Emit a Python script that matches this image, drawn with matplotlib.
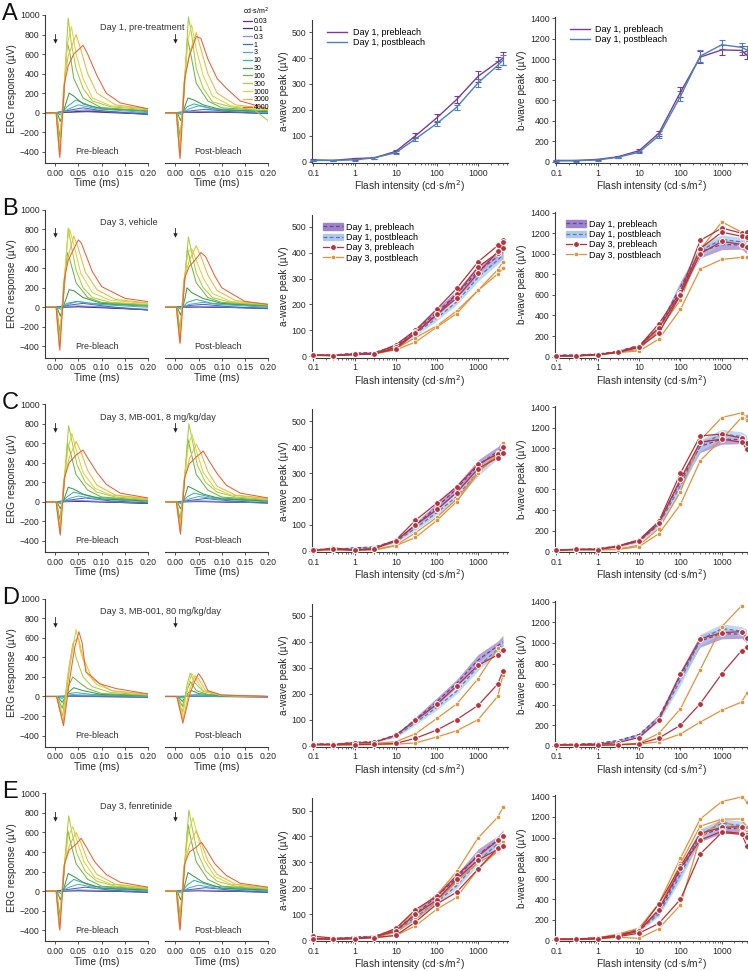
import numpy as np
import matplotlib
matplotlib.use('Agg')
import matplotlib.pyplot as plt
from matplotlib.patches import Patch
from matplotlib.lines import Line2D
from matplotlib.ticker import LogLocator, FixedLocator, NullFormatter

plt.rcParams['font.family'] = ['Liberation Sans', 'DejaVu Sans']

# ---------------- data ----------------
INTENSITY = [0.1, 0.3, 1, 3, 10, 30, 100, 300, 1000, 3000, 4000]
LEGEND_LABELS = ['0.03', '0.1', '0.3', '1', '3', '10', '30', '100', '300', '1000', '3000', '4000']
TRACE_COLORS = ['#6a2c91', '#37378c', '#9090d8', '#3f6fb5', '#5aa6d8', '#3db3a2',
                '#3c9b4c', '#6bb847', '#a9cd3c', '#d6d640', '#eab83c', '#e4643a']
ROW_LETTERS = ['A', 'B', 'C', 'D', 'E']
ROW_TITLES = ['Day 1, pre-treatment', 'Day 3, vehicle', 'Day 3, MB-001, 8 mg/kg/day',
              'Day 3, MB-001, 80 mg/kg/day', 'Day 3, fenretinide']

# Day 1 means and errors (a-wave and b-wave)
D1_A_PRE = [7, 5, 12, 15, 40, 100, 170, 240, 330, 385, 400]
D1_A_PRE_ERR = [3, 3, 4, 3, 5, 10, 15, 15, 22, 18, 25]
D1_A_POST = [5, 5, 7, 15, 35, 88, 148, 210, 305, 372, 392]
D1_A_POST_ERR = [3, 3, 3, 3, 5, 8, 10, 10, 15, 15, 20]
D1_B_PRE = [15, 15, 25, 50, 110, 280, 680, 1020, 1090, 1085, 1040]
D1_B_PRE_ERR = [8, 8, 8, 8, 12, 25, 50, 60, 50, 40, 40]
D1_B_POST = [10, 12, 20, 45, 95, 255, 640, 1030, 1140, 1115, 1090]
D1_B_POST_ERR = [8, 8, 8, 8, 12, 20, 50, 55, 45, 45, 40]

nan = float('nan')
# Day 3 individual animals, rows B..E
B_A_PRE = [[5, 3, 8, 10, 45, 100, 183, 262, 365, 428, 450],
           [4, 3, 8, 10, 35, 92, 160, 240, 345, 400, 418],
           [4, 3, 7, 10, 28, 90, 162, 225, 322, 405, 440]]
B_A_POST = [[4, 3, 7, 9, 30, 72, 118, 175, 255, 335, 365],
            [3, 3, 6, 9, 25, 55, 113, 165, 255, 318, 340]]
B_B_PRE = [[8, 8, 20, 45, 100, 320, 630, 1130, 1250, 1200, 1210],
           [8, 8, 18, 42, 95, 280, 610, 1050, 1210, 1170, 1165],
           [7, 7, 18, 40, 90, 230, 600, 1000, 1120, 1090, 1065]]
B_B_POST = [[7, 7, 17, 40, 70, 260, 550, 1040, 1310, 1210, 1130],
            [6, 6, 15, 38, 55, 170, 460, 850, 945, 965, 965]]

C_A_PRE = [[0, 12, 3, 10, 42, 118, 185, 248, 335, 375, 400],
           [2, 8, 2, 8, 38, 100, 160, 225, 318, 360, 378]]
C_A_POST = [[0, 5, 3, 5, 22, 70, 130, 200, 305, 370, 415],
            [0, 4, 2, 3, 20, 52, 118, 190, 300, 382, 400]]
C_B_PRE = [[10, 20, 18, 50, 110, 290, 760, 1120, 1140, 1100, 1050],
           [8, 18, 15, 45, 100, 270, 700, 1060, 1090, 1060, 990]]
C_B_POST = [[8, 15, 15, 20, 60, 220, 580, 1080, 1300, 1345, 1310],
            [6, 12, 12, 15, 45, 170, 455, 880, 1090, 1300, 1280]]

D_A_PRE = [[5, 4, 10, 12, 40, 97, 160, 230, 310, 350, 367],
           [3, 3, 3, 5, 8, 28, 60, 100, 155, 238, 288]]
D_A_POST = [[4, 3, 6, 8, 15, 45, 105, 160, 258, 375, 370],
            [2, 2, 3, 3, 5, 10, 33, 57, 100, 190, 272]]
D_B_PRE = [[8, 10, 15, 30, 80, 250, 700, 1040, 1100, 1110, 1050],
           [6, 8, 5, 10, 20, 75, 200, 410, 700, 925, 960]]
D_B_POST = [[6, 8, 8, 10, 25, 120, 360, 740, 1160, 1360, nan],
            [5, 6, 5, 8, 15, 40, 115, 230, 345, 425, 510]]

E_A_PRE = [[15, 8, 7, 12, 45, 118, 170, 250, 325, 385, 400],
           [5, 5, 7, 12, 35, 100, 155, 235, 310, 350, 362],
           [5, 3, 6, 10, 18, 70, 140, 185, 275, 355, 362]]
E_A_POST = [[8, 5, 7, 12, 45, 110, 175, 265, 395, 475, 512],
            [5, 3, 6, 10, 30, 80, 150, 225, 300, 340, 380],
            [3, 3, 5, 8, 18, 55, 120, 165, 275, 345, 362]]
E_B_PRE = [[12, 12, 25, 50, 100, 355, 720, 1040, 1100, 1105, 1020],
           [10, 10, 20, 40, 90, 300, 700, 975, 1060, 1040, 920],
           [10, 10, 15, 35, 70, 165, 400, 840, 1050, 1030, 1010]]
E_B_POST = [[12, 12, 25, 60, 120, 360, 800, 1180, 1350, 1395, 1350],
            [10, 10, 20, 50, 100, 300, 750, 1110, 1180, 1180, 1100],
            [8, 8, 15, 30, 20, 115, 345, 1000, 1170, 1070, 1050]]

DAY3 = {'B': (B_A_PRE, B_A_POST, B_B_PRE, B_B_POST),
        'C': (C_A_PRE, C_A_POST, C_B_PRE, C_B_POST),
        'D': (D_A_PRE, D_A_POST, D_B_PRE, D_B_POST),
        'E': (E_A_PRE, E_A_POST, E_B_PRE, E_B_POST)}

# ERG waveforms: (time ms, response uV) vertices, one list per flash intensity
A_PRE_WAVES = [
    [(-0.022, 0), (0, 0), (0.03, 5), (0.07, 10), (0.12, 0), (0.2, -15)],
    [(-0.022, 0), (0, 0), (0.03, 8), (0.07, 18), (0.12, 5), (0.2, -10)],
    [(-0.022, 0), (0, 0), (0.03, 15), (0.065, 30), (0.12, 10), (0.2, -5)],
    [(-0.022, 0), (0, 0), (0.03, 25), (0.06, 50), (0.1, 20), (0.2, -20)],
    [(-0.022, 0), (0.005, 0), (0.012, -5), (0.03, 40), (0.05, 80), (0.09, 40), (0.2, 0)],
    [(-0.022, 0), (0.004, 0), (0.012, -25), (0.025, 60), (0.045, 130), (0.08, 60), (0.2, 10)],
    [(-0.022, 0), (0.004, 0), (0.011, -90), (0.02, 50), (0.03, 200), (0.04, 170), (0.06, 90), (0.1, 40), (0.2, 20)],
    [(-0.022, 0), (0.003, 0), (0.01, -250), (0.018, 100), (0.026, 720), (0.032, 600), (0.04, 350), (0.06, 150), (0.1, 50), (0.2, 20)],
    [(-0.022, 0), (0.003, 0), (0.01, -350), (0.018, 150), (0.028, 970), (0.035, 700), (0.045, 450), (0.06, 250), (0.08, 120), (0.12, 60), (0.2, 30)],
    [(-0.022, 0), (0.002, 0), (0.009, -400), (0.018, 200), (0.026, 700), (0.035, 880), (0.045, 600), (0.06, 350), (0.08, 150), (0.12, 70), (0.2, 40)],
    [(-0.022, 0), (0.002, 0), (0.009, -440), (0.018, 250), (0.028, 580), (0.045, 800), (0.055, 650), (0.07, 400), (0.09, 200), (0.13, 80), (0.2, 40)],
    [(-0.022, 0), (0.002, 0), (0.01, -460), (0.02, 300), (0.028, 480), (0.04, 600), (0.06, 690), (0.07, 600), (0.09, 380), (0.11, 200), (0.14, 100), (0.2, 40)],
]
A_POST_WAVES = [
    [(-0.022, 0), (0, 0), (0.04, 3), (0.08, 5), (0.2, -5)],
    [(-0.022, 0), (0, 0), (0.04, 5), (0.08, 10), (0.2, -5)],
    [(-0.022, 0), (0, 0), (0.04, 10), (0.07, 15), (0.2, 0)],
    [(-0.022, 0), (0, 0), (0.035, 20), (0.065, 35), (0.12, 10), (0.2, -10)],
    [(-0.022, 0), (0.005, 0), (0.012, -5), (0.03, 40), (0.05, 70), (0.09, 30), (0.2, 0)],
    [(-0.022, 0), (0.004, 0), (0.012, -20), (0.025, 60), (0.04, 90), (0.08, 40), (0.2, 10)],
    [(-0.022, 0), (0.004, 0), (0.011, -80), (0.02, 60), (0.027, 150), (0.04, 130), (0.06, 80), (0.1, 30), (0.2, 10)],
    [(-0.022, 0), (0.003, 0), (0.01, -250), (0.018, 150), (0.026, 760), (0.033, 600), (0.045, 300), (0.07, 120), (0.1, 50), (0.2, 20)],
    [(-0.022, 0), (0.003, 0), (0.01, -380), (0.018, 200), (0.028, 980), (0.035, 800), (0.045, 450), (0.06, 250), (0.08, 110), (0.12, 60), (0.17, 30), (0.2, -80)],
    [(-0.022, 0), (0.002, 0), (0.009, -420), (0.018, 250), (0.027, 750), (0.035, 900), (0.045, 650), (0.06, 380), (0.08, 170), (0.12, 70), (0.2, 30)],
    [(-0.022, 0), (0.002, 0), (0.009, -450), (0.018, 300), (0.03, 600), (0.045, 820), (0.055, 650), (0.07, 400), (0.09, 200), (0.13, 80), (0.2, 40)],
    [(-0.022, 0), (0.002, 0), (0.01, -470), (0.02, 350), (0.03, 580), (0.045, 780), (0.055, 760), (0.07, 550), (0.09, 350), (0.11, 250), (0.14, 120), (0.2, 40)],
]
B_PRE_WAVES = [
    [(-0.022, 0), (0, 0), (0.05, 5), (0.1, -5), (0.2, -25)],
    [(-0.022, 0), (0, 0), (0.05, 8), (0.1, 0), (0.2, -25)],
    [(-0.022, 0), (0, 0), (0.05, 15), (0.1, 5), (0.2, -20)],
    [(-0.022, 0), (0, 0), (0.035, 25), (0.06, 40), (0.12, 5), (0.2, -30)],
    [(-0.022, 0), (0.005, 0), (0.012, -5), (0.03, 35), (0.05, 60), (0.09, 30), (0.2, 0)],
    [(-0.022, 0), (0.004, 0), (0.012, -20), (0.025, 40), (0.045, 60), (0.08, 40), (0.2, 10)],
    [(-0.022, 0), (0.004, 0), (0.011, -90), (0.02, 40), (0.03, 180), (0.04, 170), (0.06, 100), (0.1, 40), (0.2, 20)],
    [(-0.022, 0), (0.003, 0), (0.01, -250), (0.018, 100), (0.026, 560), (0.032, 480), (0.045, 250), (0.07, 100), (0.1, 50), (0.2, 20)],
    [(-0.022, 0), (0.003, 0), (0.01, -330), (0.018, 150), (0.028, 810), (0.035, 620), (0.045, 380), (0.06, 200), (0.08, 100), (0.12, 50), (0.2, 30)],
    [(-0.022, 0), (0.002, 0), (0.009, -390), (0.018, 200), (0.027, 700), (0.031, 800), (0.04, 640), (0.055, 350), (0.08, 150), (0.12, 70), (0.2, 40)],
    [(-0.022, 0), (0.002, 0), (0.009, -420), (0.018, 250), (0.028, 520), (0.04, 730), (0.05, 600), (0.065, 360), (0.09, 180), (0.13, 80), (0.2, 45)],
    [(-0.022, 0), (0.002, 0), (0.01, -440), (0.02, 300), (0.028, 480), (0.036, 560), (0.05, 690), (0.056, 660), (0.08, 365), (0.1, 212), (0.15, 92), (0.2, 58)],
]
B_POST_WAVES = [
    [(-0.022, 0), (0, 0), (0.05, 3), (0.1, 0), (0.2, -10)],
    [(-0.022, 0), (0, 0), (0.05, 6), (0.1, 0), (0.2, -10)],
    [(-0.022, 0), (0, 0), (0.05, 10), (0.1, 5), (0.2, -10)],
    [(-0.022, 0), (0, 0), (0.035, 20), (0.06, 30), (0.12, 5), (0.2, -15)],
    [(-0.022, 0), (0.005, 0), (0.012, -5), (0.03, 30), (0.06, 50), (0.09, 30), (0.2, 0)],
    [(-0.022, 0), (0.004, 0), (0.012, -20), (0.025, 50), (0.045, 80), (0.08, 40), (0.2, 10)],
    [(-0.022, 0), (0.004, 0), (0.011, -80), (0.02, 80), (0.025, 200), (0.035, 150), (0.06, 90), (0.1, 40), (0.2, 15)],
    [(-0.022, 0), (0.003, 0), (0.01, -220), (0.018, 150), (0.026, 600), (0.033, 450), (0.045, 250), (0.07, 100), (0.1, 50), (0.2, 20)],
    [(-0.022, 0), (0.003, 0), (0.01, -300), (0.018, 200), (0.028, 720), (0.035, 560), (0.045, 350), (0.06, 200), (0.08, 100), (0.12, 50), (0.2, 25)],
    [(-0.022, 0), (0.002, 0), (0.009, -340), (0.018, 250), (0.027, 560), (0.035, 600), (0.045, 480), (0.06, 300), (0.08, 140), (0.12, 60), (0.2, 30)],
    [(-0.022, 0), (0.002, 0), (0.009, -360), (0.018, 280), (0.03, 480), (0.045, 630), (0.055, 520), (0.07, 330), (0.09, 170), (0.13, 70), (0.2, 30)],
    [(-0.022, 0), (0.002, 0), (0.01, -370), (0.02, 300), (0.03, 420), (0.04, 470), (0.055, 560), (0.065, 520), (0.085, 320), (0.1, 200), (0.15, 60), (0.2, 30)],
]
C_PRE_WAVES = [
    [(-0.022, 0), (0, 0), (0.05, 5), (0.1, 0), (0.2, -15)],
    [(-0.022, 0), (0, 0), (0.05, 8), (0.1, 0), (0.2, -15)],
    [(-0.022, 0), (0, 0), (0.05, 15), (0.1, 5), (0.2, -10)],
    [(-0.022, 0), (0, 0), (0.04, 25), (0.065, 40), (0.12, 10), (0.2, -10)],
    [(-0.022, 0), (0.005, 0), (0.012, -5), (0.03, 35), (0.05, 60), (0.09, 30), (0.2, 0)],
    [(-0.022, 0), (0.004, 0), (0.012, -20), (0.025, 50), (0.04, 100), (0.08, 50), (0.2, 10)],
    [(-0.022, 0), (0.004, 0), (0.011, -70), (0.02, 40), (0.028, 150), (0.04, 130), (0.06, 80), (0.1, 30), (0.2, 10)],
    [(-0.022, 0), (0.003, 0), (0.01, -180), (0.018, 100), (0.027, 600), (0.034, 480), (0.045, 280), (0.07, 120), (0.1, 50), (0.2, 15)],
    [(-0.022, 0), (0.003, 0), (0.01, -260), (0.018, 150), (0.029, 780), (0.036, 620), (0.047, 380), (0.065, 200), (0.09, 100), (0.13, 50), (0.2, 25)],
    [(-0.022, 0), (0.002, 0), (0.01, -300), (0.018, 180), (0.028, 560), (0.036, 700), (0.046, 520), (0.06, 300), (0.085, 140), (0.12, 70), (0.2, 30)],
    [(-0.022, 0), (0.002, 0), (0.01, -320), (0.018, 200), (0.03, 450), (0.045, 620), (0.055, 520), (0.07, 320), (0.09, 170), (0.13, 70), (0.2, 35)],
    [(-0.022, 0), (0.002, 0), (0.011, -340), (0.02, 250), (0.03, 400), (0.045, 480), (0.06, 530), (0.07, 450), (0.09, 300), (0.11, 180), (0.14, 90), (0.2, 40)],
]
C_POST_WAVES = [
    [(-0.022, 0), (0, 0), (0.05, 3), (0.1, 0), (0.2, -10)],
    [(-0.022, 0), (0, 0), (0.05, 6), (0.1, 0), (0.2, -10)],
    [(-0.022, 0), (0, 0), (0.05, 10), (0.1, 5), (0.2, -10)],
    [(-0.022, 0), (0, 0), (0.04, 20), (0.065, 35), (0.12, 10), (0.2, -10)],
    [(-0.022, 0), (0.005, 0), (0.012, -5), (0.03, 30), (0.05, 55), (0.09, 30), (0.2, 0)],
    [(-0.022, 0), (0.004, 0), (0.012, -20), (0.025, 50), (0.04, 90), (0.08, 45), (0.2, 10)],
    [(-0.022, 0), (0.004, 0), (0.011, -70), (0.02, 50), (0.027, 160), (0.04, 130), (0.06, 80), (0.1, 30), (0.2, 10)],
    [(-0.022, 0), (0.003, 0), (0.01, -180), (0.018, 120), (0.027, 640), (0.034, 500), (0.045, 280), (0.07, 120), (0.1, 50), (0.2, 15)],
    [(-0.022, 0), (0.003, 0), (0.01, -260), (0.018, 160), (0.029, 800), (0.036, 640), (0.047, 380), (0.065, 200), (0.09, 100), (0.13, 50), (0.2, 25)],
    [(-0.022, 0), (0.002, 0), (0.01, -290), (0.018, 190), (0.028, 580), (0.036, 690), (0.046, 510), (0.06, 300), (0.085, 140), (0.12, 70), (0.2, 30)],
    [(-0.022, 0), (0.002, 0), (0.01, -310), (0.018, 210), (0.03, 440), (0.045, 590), (0.055, 500), (0.07, 310), (0.09, 160), (0.13, 70), (0.2, 35)],
    [(-0.022, 0), (0.002, 0), (0.011, -330), (0.02, 250), (0.03, 390), (0.045, 460), (0.06, 520), (0.07, 440), (0.09, 290), (0.11, 170), (0.14, 90), (0.2, 40)],
]
D_PRE_WAVES = [
    [(-0.022, 0), (0, 0), (0.05, 0), (0.2, -5)],
    [(-0.022, 0), (0, 0), (0.05, 2), (0.2, -5)],
    [(-0.022, 0), (0, 0), (0.05, 4), (0.2, -3)],
    [(-0.022, 0), (0, 0), (0.04, 8), (0.08, 5), (0.2, -5)],
    [(-0.022, 0), (0.005, 0), (0.015, -5), (0.035, 20), (0.06, 15), (0.2, 0)],
    [(-0.022, 0), (0.005, 0), (0.015, -20), (0.03, 30), (0.045, 40), (0.08, 20), (0.2, 5)],
    [(-0.022, 0), (0.005, 0), (0.015, -60), (0.028, 40), (0.04, 90), (0.06, 60), (0.1, 20), (0.2, 10)],
    [(-0.022, 0), (0.004, 0), (0.015, -120), (0.028, 100), (0.038, 200), (0.05, 150), (0.07, 80), (0.1, 30), (0.2, 10)],
    [(-0.022, 0), (0.004, 0), (0.016, -200), (0.028, 250), (0.038, 543), (0.045, 400), (0.06, 200), (0.08, 100), (0.12, 40), (0.2, 15)],
    [(-0.022, 0), (0.003, 0), (0.017, -260), (0.03, 300), (0.045, 687), (0.055, 450), (0.07, 230), (0.09, 120), (0.13, 50), (0.2, 20)],
    [(-0.022, 0), (0.003, 0), (0.017, -280), (0.03, 250), (0.04, 560), (0.05, 600), (0.06, 400), (0.08, 180), (0.12, 60), (0.2, 25)],
    [(-0.022, 0), (0.003, 0), (0.018, -300), (0.032, 200), (0.042, 500), (0.051, 663), (0.058, 550), (0.066, 250), (0.08, 200), (0.096, 130), (0.132, 80), (0.2, 27)],
]
D_POST_WAVES = [
    [(-0.022, 0), (0, 0), (0.05, 0), (0.2, -3)],
    [(-0.022, 0), (0, 0), (0.05, 1), (0.2, -3)],
    [(-0.022, 0), (0, 0), (0.05, 2), (0.2, -2)],
    [(-0.022, 0), (0, 0), (0.05, 4), (0.2, -3)],
    [(-0.022, 0), (0.005, 0), (0.015, -5), (0.035, 8), (0.06, 5), (0.2, 0)],
    [(-0.022, 0), (0.005, 0), (0.015, -15), (0.03, 15), (0.045, 20), (0.08, 5), (0.2, 0)],
    [(-0.022, 0), (0.005, 0), (0.015, -50), (0.028, 40), (0.035, 60), (0.05, 30), (0.1, 5), (0.2, 0)],
    [(-0.022, 0), (0.004, 0), (0.015, -100), (0.026, 80), (0.033, 150), (0.045, 60), (0.07, 20), (0.2, 0)],
    [(-0.022, 0), (0.004, 0), (0.015, -160), (0.025, 120), (0.032, 240), (0.04, 150), (0.06, 50), (0.1, 10), (0.2, 0)],
    [(-0.022, 0), (0.003, 0), (0.015, -200), (0.027, 100), (0.035, 235), (0.045, 170), (0.06, 60), (0.1, 10), (0.2, 0)],
    [(-0.022, 0), (0.003, 0), (0.016, -240), (0.03, 60), (0.042, 210), (0.05, 180), (0.065, 60), (0.1, 10), (0.2, 0)],
    [(-0.022, 0), (0.003, 0), (0.016, -272), (0.032, 40), (0.042, 160), (0.05, 234), (0.058, 180), (0.07, 60), (0.1, 15), (0.2, 0)],
]
E_PRE_WAVES = [
    [(-0.022, 0), (0, 0), (0.05, 3), (0.1, 0), (0.2, -10)],
    [(-0.022, 0), (0, 0), (0.05, 6), (0.1, 0), (0.2, -10)],
    [(-0.022, 0), (0, 0), (0.05, 12), (0.1, 5), (0.2, -5)],
    [(-0.022, 0), (0, 0), (0.04, 25), (0.065, 40), (0.12, 10), (0.2, -10)],
    [(-0.022, 0), (0.005, 0), (0.012, -5), (0.03, 40), (0.05, 70), (0.09, 30), (0.2, 0)],
    [(-0.022, 0), (0.004, 0), (0.012, -25), (0.025, 60), (0.04, 120), (0.08, 50), (0.2, 10)],
    [(-0.022, 0), (0.004, 0), (0.011, -90), (0.02, 50), (0.028, 180), (0.04, 150), (0.06, 90), (0.1, 30), (0.2, 10)],
    [(-0.022, 0), (0.003, 0), (0.01, -250), (0.018, 120), (0.027, 620), (0.034, 480), (0.045, 280), (0.07, 120), (0.1, 50), (0.2, 20)],
    [(-0.022, 0), (0.003, 0), (0.01, -330), (0.018, 170), (0.029, 770), (0.036, 600), (0.047, 380), (0.065, 200), (0.09, 100), (0.13, 50), (0.2, 25)],
    [(-0.022, 0), (0.002, 0), (0.009, -370), (0.018, 200), (0.028, 560), (0.038, 660), (0.048, 500), (0.062, 300), (0.085, 140), (0.12, 70), (0.2, 30)],
    [(-0.022, 0), (0.002, 0), (0.009, -390), (0.018, 240), (0.03, 460), (0.045, 600), (0.055, 500), (0.07, 310), (0.09, 170), (0.13, 70), (0.2, 35)],
    [(-0.022, 0), (0.002, 0), (0.01, -400), (0.02, 280), (0.03, 420), (0.045, 480), (0.056, 540), (0.066, 460), (0.085, 300), (0.11, 170), (0.14, 90), (0.2, 40)],
]
E_POST_WAVES = [
    [(-0.022, 0), (0, 0), (0.05, 3), (0.1, 0), (0.2, -10)],
    [(-0.022, 0), (0, 0), (0.05, 6), (0.1, 0), (0.2, -10)],
    [(-0.022, 0), (0, 0), (0.05, 10), (0.1, 5), (0.2, -5)],
    [(-0.022, 0), (0, 0), (0.04, 20), (0.065, 35), (0.12, 10), (0.2, -10)],
    [(-0.022, 0), (0.005, 0), (0.012, -5), (0.03, 35), (0.05, 60), (0.09, 30), (0.2, 0)],
    [(-0.022, 0), (0.004, 0), (0.012, -20), (0.025, 60), (0.04, 110), (0.08, 50), (0.2, 10)],
    [(-0.022, 0), (0.004, 0), (0.011, -90), (0.02, 60), (0.027, 190), (0.04, 150), (0.06, 90), (0.1, 30), (0.2, 10)],
    [(-0.022, 0), (0.003, 0), (0.01, -250), (0.018, 130), (0.027, 680), (0.034, 520), (0.045, 300), (0.07, 120), (0.1, 50), (0.2, 20)],
    [(-0.022, 0), (0.003, 0), (0.01, -330), (0.018, 180), (0.029, 830), (0.036, 650), (0.047, 400), (0.065, 210), (0.09, 100), (0.13, 50), (0.2, 25)],
    [(-0.022, 0), (0.002, 0), (0.009, -370), (0.018, 220), (0.028, 600), (0.038, 750), (0.048, 560), (0.062, 320), (0.085, 150), (0.12, 70), (0.2, 30)],
    [(-0.022, 0), (0.002, 0), (0.009, -390), (0.018, 250), (0.03, 470), (0.045, 620), (0.055, 500), (0.07, 310), (0.09, 170), (0.13, 70), (0.2, 35)],
    [(-0.022, 0), (0.002, 0), (0.01, -400), (0.02, 280), (0.03, 400), (0.045, 450), (0.056, 500), (0.066, 430), (0.085, 280), (0.11, 160), (0.14, 80), (0.2, 40)],
]
WAVES = [(A_PRE_WAVES, A_POST_WAVES), (B_PRE_WAVES, B_POST_WAVES), (C_PRE_WAVES, C_POST_WAVES),
         (D_PRE_WAVES, D_POST_WAVES), (E_PRE_WAVES, E_POST_WAVES)]

# ---------------- styling ----------------
C_D1PRE = '#7a3d96'
C_D1POST = '#4a80c0'
C_D1PRE_BAND = '#9c84cc'
C_D1POST_BAND = '#b0c8ea'
C_D3PRE = '#b8323c'
C_D3POST = '#e2923c'
SPINE = '#3a3a3a'
TXT = '#2a2a2a'
TICK_FS = 6.3
LAB_FS = 7.3

W, H = 748, 971
fig = plt.figure(figsize=(W / 100, H / 100), dpi=100)


def ax_px(left, top, right, bottom):
    return fig.add_axes([left / W, 1 - bottom / H, (right - left) / W, (bottom - top) / H])


def style_ax(ax, left=True):
    for s in ['top', 'right']:
        ax.spines[s].set_visible(False)
    ax.spines['left'].set_visible(left)
    for s in ['left', 'bottom']:
        ax.spines[s].set_color(SPINE)
        ax.spines[s].set_linewidth(0.8)
    ax.tick_params(which='major', length=2.5, width=0.6, color=SPINE, labelsize=TICK_FS,
                   labelcolor=TXT, pad=1.5)
    ax.tick_params(which='minor', length=1.5, width=0.5, color=SPINE)
    ax.patch.set_alpha(0)


def style_log(ax, xmax):
    ax.set_xscale('log')
    ax.set_xlim(0.092, xmax)
    ax.xaxis.set_major_locator(FixedLocator([0.1, 1, 10, 100, 1000]))
    ax.set_xticklabels(['0.1', '1', '10', '100', '1000'])
    ax.xaxis.set_minor_locator(LogLocator(base=10, subs=np.arange(2, 10), numticks=20))
    ax.xaxis.set_minor_formatter(NullFormatter())
    ax.set_xlabel('Flash intensity (cd·s/m$^2$)', fontsize=LAB_FS, color=TXT, labelpad=0.5)


ROW_DY = 194.6
for r in range(5):
    dy = ROW_DY * r
    pre_w, post_w = WAVES[r]
    # waveform axes
    for k, (waves, l, rr) in enumerate([(pre_w, 45, 148), (post_w, 164.5, 268)]):
        ax = ax_px(l, 15 + dy, rr, 163 + dy)
        style_ax(ax, left=(k == 0))
        for wv, col in zip(waves, TRACE_COLORS):
            t = [p[0] for p in wv]
            v = [p[1] for p in wv]
            ax.plot(t, v, color=col, lw=0.75, solid_joinstyle='round')
        ax.set_xlim(-0.022 if k == 0 else -0.0237, 0.2)
        ax.set_ylim(-515, 1000)
        ax.set_xticks([0, 0.05, 0.1, 0.15, 0.2])
        ax.set_xticklabels(['0.00', '0.05', '0.10', '0.15', '0.20'])
        ax.set_xlabel('Time (ms)', fontsize=LAB_FS, color=TXT, labelpad=0.5)
        if k == 0:
            ax.set_yticks([-400, -200, 0, 200, 400, 600, 800, 1000])
            ax.set_ylabel('ERG response (µV)', fontsize=LAB_FS, color=TXT, labelpad=2)
        else:
            ax.set_yticks([])
        # flash marker
        ax.plot([0, 0], [740, 810], color='#222', lw=0.6)
        ax.plot([0], [735], marker='v', ms=3.2, color='#222', mew=0)
        ax.text(0.09 if k == 0 else 0.0925, -400, 'Pre-bleach' if k == 0 else 'Post-bleach',
                ha='center', va='center', fontsize=6.5, color='#333')
        if r == 0 and k == 1:
            handles = [Line2D([], [], color=c, lw=0.9) for c in TRACE_COLORS]
            leg = ax.legend(handles, LEGEND_LABELS, loc='upper left', bbox_to_anchor=(0.73, 1.08),
                            frameon=False, fontsize=5.0, handlelength=1.3, handletextpad=0.3,
                            labelspacing=0.12, borderaxespad=0, title='cd·s/m$^2$',
                            title_fontsize=5.0)
            leg._legend_box.align = 'left'
    fig.text(100 / W, 1 - (28 + dy) / H, ROW_TITLES[r], ha='left', va='center', fontsize=6.6,
             color='#333')
    fig.text(2 / W, 1 - (3 + dy) / H, ROW_LETTERS[r], fontsize=17, ha='left', va='top', color='#111')

    # a-wave and b-wave axes
    for kind in ['a', 'b']:
        if kind == 'a':
            ax = ax_px(312, 20 + dy, 508, 163 + dy)
            ylim = (-5, 547)
            yt = [0, 100, 200, 300, 400, 500]
            xmax = 5300
            d1pre, d1pre_e, d1post, d1post_e = D1_A_PRE, D1_A_PRE_ERR, D1_A_POST, D1_A_POST_ERR
            ylabel = 'a-wave peak (µV)'
        else:
            ax = ax_px(555, 17 + dy, 748, 163 + dy)
            ylim = (-10, 1410)
            yt = [0, 200, 400, 600, 800, 1000, 1200, 1400]
            xmax = 4300
            d1pre, d1pre_e, d1post, d1post_e = D1_B_PRE, D1_B_PRE_ERR, D1_B_POST, D1_B_POST_ERR
            ylabel = 'b-wave peak (µV)'
        style_ax(ax)
        style_log(ax, xmax)
        ax.set_ylim(*ylim)
        ax.set_yticks(yt)
        ax.set_ylabel(ylabel, fontsize=LAB_FS, color=TXT, labelpad=2)
        x = np.array(INTENSITY)
        if r == 0:
            ax.errorbar(x, d1pre, yerr=d1pre_e, color=C_D1PRE, lw=1.0, capsize=2, elinewidth=0.8,
                        capthick=0.8, label='Day 1, prebleach', clip_on=False, zorder=3)
            ax.errorbar(x, d1post, yerr=d1post_e, color=C_D1POST, lw=1.0, capsize=2, elinewidth=0.8,
                        capthick=0.8, label='Day 1, postbleach', clip_on=False, zorder=3)
            h = [Line2D([], [], color=C_D1PRE, lw=1.0), Line2D([], [], color=C_D1POST, lw=1.0)]
            ax.legend(h, ['Day 1, prebleach', 'Day 1, postbleach'], loc='upper left',
                      bbox_to_anchor=(0.06, 0.97), frameon=False, fontsize=6.5,
                      handlelength=2.2, handletextpad=0.6, labelspacing=0.15, borderaxespad=0)
        else:
            letter = ROW_LETTERS[r]
            a_pre, a_post, b_pre, b_post = DAY3[letter]
            pre3, post3 = (a_pre, a_post) if kind == 'a' else (b_pre, b_post)
            lo = np.array(d1pre) - np.array(d1pre_e)
            hi = np.array(d1pre) + np.array(d1pre_e)
            ax.fill_between(x, lo, hi, color=C_D1PRE_BAND, alpha=0.75, lw=0, zorder=1)
            lo = np.array(d1post) - np.array(d1post_e)
            hi = np.array(d1post) + np.array(d1post_e)
            ax.fill_between(x, lo, hi, color=C_D1POST_BAND, alpha=0.75, lw=0, zorder=1)
            ax.plot(x, d1pre, color=C_D1PRE, lw=0.9, ls=(0, (3, 2)), zorder=2)
            ax.plot(x, d1post, color=C_D1POST, lw=0.9, ls=(0, (3, 2)), zorder=2)
            for ys in post3:
                ax.plot(x, ys, color=C_D3POST, lw=0.9, marker='o', ms=3.2, mec='white', mew=0.5,
                        zorder=3, clip_on=False)
            for ys in pre3:
                ax.plot(x, ys, color=C_D3PRE, lw=0.9, marker='o', ms=4.2, mec='white', mew=0.7,
                        zorder=4, clip_on=False)
            if r == 1:
                h = [(Patch(color=C_D1PRE_BAND), Line2D([], [], color=C_D1PRE, lw=0.9, ls=(0, (3, 2)))),
                     (Patch(color=C_D1POST_BAND), Line2D([], [], color=C_D1POST, lw=0.9, ls=(0, (3, 2)))),
                     Line2D([], [], color=C_D3PRE, lw=0.9, marker='o', ms=4.2, mec='white', mew=0.7),
                     Line2D([], [], color=C_D3POST, lw=0.9, marker='o', ms=3.2, mec='white', mew=0.5)]
                ax.legend(h, ['Day 1, prebleach', 'Day 1, postbleach', 'Day 3, prebleach',
                              'Day 3, postbleach'], loc='upper left', bbox_to_anchor=(0.04, 0.97),
                          frameon=False, fontsize=6.5, handlelength=2.2, handletextpad=0.3,
                          labelspacing=0.15, borderaxespad=0)

fig.savefig('out.png', dpi=100)
